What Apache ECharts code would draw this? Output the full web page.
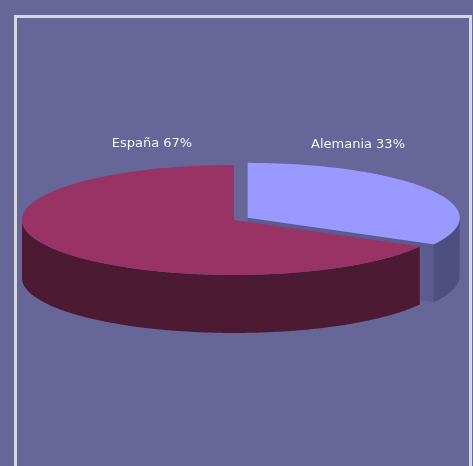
<!DOCTYPE html>
<html>
<head>
<meta charset="utf-8">
<style>
  html, body { margin: 0; padding: 0; background: #666699; }
  #chart { width: 473px; height: 466px; }
</style>
<script src="https://cdn.jsdelivr.net/npm/echarts@6/dist/echarts.min.js"></script>
</head>
<body>
<div id="chart"></div>
<script>
// ---- data ----
const categories = ['Alemania', 'España'];
const values = [33, 67];
const sliceColors = ['#9999FF', '#993366'];
const wallColors = ['#4E4E80', '#4D1A33'];
const cutColors = ['#5C5C91', '#5E2040'];

// ---- layout ----
const layout = {
  cx: 0.4947, cy: 0.472,   // fraction of width / height
  rx: 212, ry: 55, depth: 58,
  explode: [0.075, 0]
};
const labelPos = [[358 / 473, 145 / 466], [152 / 473, 144 / 466]];

const total = values.reduce((a, b) => a + b, 0);
const startAngles = [];
let acc = 0;
values.forEach(v => { startAngles.push(acc); acc += v / total * Math.PI * 2; });

const chart = echarts.init(document.getElementById('chart'), null, { renderer: 'canvas' });

function renderItem(params, api) {
  const i = params.dataIndex;
  const v = api.value(0);
  const W = api.getWidth(), H = api.getHeight();
  const a0 = startAngles[i];
  const a1 = a0 + v / total * Math.PI * 2;
  const mid = (a0 + a1) / 2;
  const rx = layout.rx, ry = layout.ry, d = layout.depth;
  const e = layout.explode[i];
  const cx = W * layout.cx + e * rx * Math.sin(mid);
  const cy = H * layout.cy - e * ry * Math.cos(mid);
  const P = (t, dz) => [cx + rx * Math.sin(t), cy - ry * Math.cos(t) + (dz || 0)];
  const arc = (s, t, dz) => {
    const pts = [];
    const n = Math.max(2, Math.ceil(Math.abs(t - s) / 0.01));
    for (let k = 0; k <= n; k++) pts.push(P(s + (t - s) * k / n, dz));
    return pts;
  };
  const base = Math.round((1 - Math.cos(mid)) * 10) * 10;
  const children = [];
  // radial cut faces
  if (Math.sin(a1) > 1e-6) {
    children.push({ type: 'polygon', z2: base + 1,
      shape: { points: [[cx, cy], P(a1), P(a1, d), [cx, cy + d]] },
      style: { fill: cutColors[i] } });
  }
  if (Math.sin(a0) < -1e-6) {
    children.push({ type: 'polygon', z2: base + 1,
      shape: { points: [[cx, cy], P(a0), P(a0, d), [cx, cy + d]] },
      style: { fill: cutColors[i] } });
  }
  // outer front wall
  const s = Math.max(a0, Math.PI / 2), t = Math.min(a1, Math.PI * 1.5);
  if (t > s) {
    const pts = arc(s, t, 0).concat(arc(t, s, d));
    children.push({ type: 'polygon', z2: base + 2,
      shape: { points: pts }, style: { fill: wallColors[i] } });
  }
  // top face
  children.push({ type: 'polygon', z2: base + 3,
    shape: { points: [[cx, cy]].concat(arc(a0, a1, 0)) },
    style: { fill: sliceColors[i] } });
  // label
  children.push({ type: 'text', z2: base + 4,
    x: W * labelPos[i][0], y: H * labelPos[i][1],
    style: {
      text: categories[i] + ' ' + Math.round(v / total * 100) + '%',
      fill: '#F4F4F8', font: '13px "DejaVu Sans"',
      align: 'center', verticalAlign: 'middle'
    } });
  return { type: 'group', children };
}

chart.setOption({
  backgroundColor: '#666699',
  animation: false,
  graphic: [{
    type: 'rect', left: 13, top: 14, z: -1,
    shape: { width: 455, height: 500 },
    style: { fill: 'none', stroke: '#D6D6DE', lineWidth: 3 }
  }],
  series: [{
    type: 'custom',
    coordinateSystem: 'none',
    renderItem: renderItem,
    data: values.map((v, i) => ({ name: categories[i], value: [v] }))
  }]
});
</script>
</body>
</html>
